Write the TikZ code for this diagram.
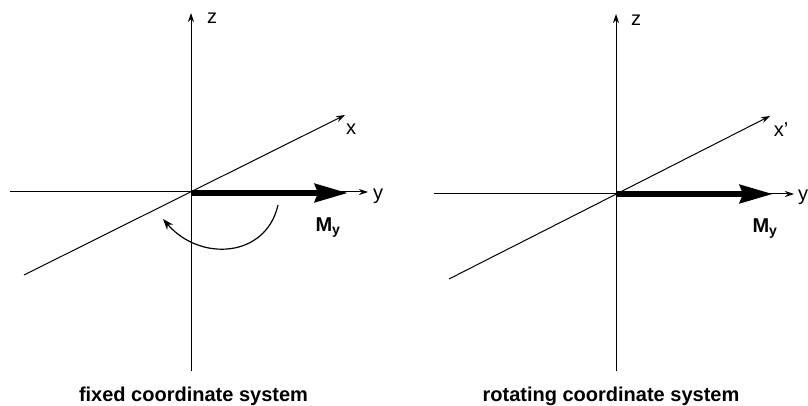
\documentclass[tikz,border=0pt]{standalone}
\usepackage{fontspec}
\setmainfont{Liberation Sans}
\usetikzlibrary{arrows.meta}
\tikzset{
 ax/.style={line width=1pt,-{Stealth[length=9pt,width=6pt]}},
 mag/.style={line width=6pt,-{Stealth[length=33pt,width=18pt,inset=3pt]}},
 lab/.style={font=\fontsize{20pt}{22pt}\selectfont,inner sep=0pt},
 blab/.style={font=\fontsize{20pt}{22pt}\selectfont\bfseries,inner sep=0pt},
 capt/.style={font=\fontsize{20pt}{23pt}\selectfont\bfseries,inner sep=0pt}
}
\begin{document}
\begin{tikzpicture}[x=1pt,y=-1pt]
\useasboundingbox (0,0) rectangle (808,406);
% left
\coordinate (o1) at (191,192);
\coordinate (zb1) at (191,371);
\coordinate (zt1) at (191,13);
\coordinate (yl1) at (10,192);
\coordinate (yr1) at (368,192);
\coordinate (xl1) at (24,275);
\coordinate (xr1) at (345,115);
\coordinate (mt1) at (348,193);
\draw[ax] (zb1) -- (zt1);
\draw[ax] (yl1) -- (yr1);
\draw[ax] (xl1) -- (xr1);
\draw[mag] (o1) ++(0,1) -- (mt1);
\node[lab] (z1) at (212,18) {z};
\node[lab] (y1) at (378,196) {y};
\node[lab] (x1) at (351,129) {x};
\node[blab] (m1) at (328,228) {M\textsubscript{y}};
\draw[line width=1.2pt,-{Stealth[length=11pt,width=8pt]}] (278,205) .. controls (266,258) and (200,262) .. (163,219);
\node[capt] (c1) at (193.5,396) {fixed coordinate system};
% right
\coordinate (o2) at (616,194);
\coordinate (zb2) at (616,371);
\coordinate (zt2) at (616,14);
\coordinate (yl2) at (434,194);
\coordinate (yr2) at (794,194);
\coordinate (xl2) at (449,279);
\coordinate (xr2) at (770,116);
\coordinate (mt2) at (773,194);
\draw[ax] (zb2) -- (zt2);
\draw[ax] (yl2) -- (yr2);
\draw[ax] (xl2) -- (xr2);
\draw[mag] (o2) -- (mt2);
\node[lab] (z2) at (636,20) {z};
\node[lab] (y2) at (803,197) {y};
\node[lab] (x2) at (781,130) {x'};
\node[blab] (m2) at (765,229) {M\textsubscript{y}};
\node[capt] (c2) at (611,396) {rotating coordinate system};
\end{tikzpicture}
\end{document}
